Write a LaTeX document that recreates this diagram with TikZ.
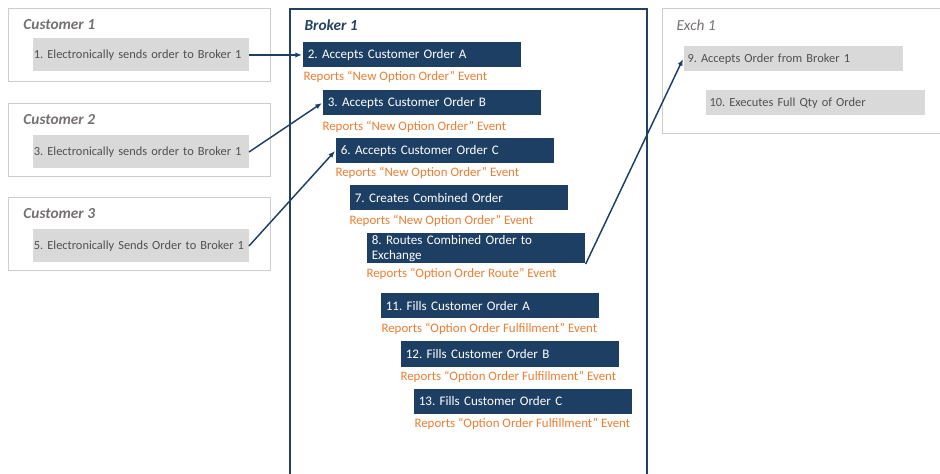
\documentclass[tikz,border=0pt]{standalone}
\usepackage{fontspec}
\setmainfont{Carlito}
\usetikzlibrary{arrows.meta}

\definecolor{framegrey}{RGB}{205,205,205}
\definecolor{boxgrey}{RGB}{217,217,217}
\definecolor{txtgrey}{RGB}{80,80,80}
\definecolor{titlegrey}{RGB}{118,113,113}
\definecolor{navy}{RGB}{29,63,100}
\definecolor{brokerblue}{RGB}{38,64,96}
\definecolor{rptorange}{RGB}{237,125,49}

\tikzset{every picture/.style={line width=0.75pt}}
\frenchspacing

\begin{document}
\begin{tikzpicture}[x=0.75pt,y=0.75pt,yscale=-1,xscale=1,
	greybox/.style={fill=boxgrey,text=txtgrey,anchor=north west,inner xsep=1pt,inner ysep=0pt,align=left,font=\fontsize{9.3}{11}\selectfont},
	navybox/.style={fill=navy,text=white,anchor=north west,inner xsep=4pt,inner ysep=0.5pt,text width=156pt,minimum height=18.75pt,align=left,font=\fontsize{9.8}{11.5}\selectfont},
	rpt/.style={text=rptorange,anchor=west,inner sep=0pt,font=\fontsize{9.7}{11}\selectfont},
	ttl/.style={anchor=west,inner sep=0pt,font=\fontsize{11.5}{13}\selectfont\bfseries\itshape},
	flow/.style={draw=navy,line width=1.1pt,-{Latex[length=5pt,width=4pt]}}]
	%set diagram left start at 0, and has height of 474
	\useasboundingbox (0,0) rectangle (940,474);
	
	%Frames
	\draw [color=framegrey] (8,9) rectangle (270,82) ;
	\draw [color=framegrey] (8,104) rectangle (270,177) ;
	\draw [color=framegrey] (8,198) rectangle (270,271) ;
	\draw [color=brokerblue, line width=1.1pt] (290,9) rectangle (647,480) ;
	\draw [color=framegrey] (662,9) rectangle (945,134) ;
	
	% Titles
	\node [ttl, color=titlegrey] (tCustA) at (23,25) {Customer 1};
	\node [ttl, color=titlegrey] (tCustB) at (23,120) {Customer 2};
	\node [ttl, color=titlegrey] (tCustC) at (23,214) {Customer 3};
	\node [ttl, color=brokerblue] (tBroker) at (304,25) {Broker 1};
	\node [ttl, color=titlegrey, font=\fontsize{11.5}{13}\selectfont\itshape] (tExch) at (676,25) {Exch 1};
	
	% Customer steps
	\node [greybox, text width=160pt, minimum height=24.75pt] (custA) at (32,38) {1. Electronically sends order to Broker 1};
	\node [greybox, text width=160pt, minimum height=24.75pt] (custB) at (32,135) {3. Electronically sends order to Broker 1};
	\node [greybox, text width=160pt, minimum height=24.75pt] (custC) at (32,229) {5. Electronically Sends Order to Broker 1};
	
	% Broker steps
	\node [navybox] (accA) at (302,42) {2. Accepts Customer Order A};
	\node [rpt] (rptA) at (303,77) {Reports “New Option Order” Event};
	\node [navybox] (accB) at (322,90) {3. Accepts Customer Order B};
	\node [rpt] (rptB) at (322,127) {Reports “New Option Order” Event};
	\node [navybox] (accC) at (335,138) {6. Accepts Customer Order C};
	\node [rpt] (rptC) at (335,173) {Reports “New Option Order” Event};
	\node [navybox] (comb) at (349,185) {7. Creates Combined Order};
	\node [rpt] (rptComb) at (349,221) {Reports “New Option Order” Event};
	\node [navybox, minimum height=22.5pt] (route) at (366,233) {8. Routes Combined Order to\\Exchange};
	\node [rpt] (rptRoute) at (366,274) {Reports “Option Order Route” Event};
	\node [navybox] (fillA) at (380,293) {11. Fills Customer Order A};
	\node [rpt] (rptFillA) at (381,329) {Reports “Option Order Fulfillment” Event};
	\node [navybox] (fillB) at (400,341) {12. Fills Customer Order B};
	\node [rpt] (rptFillB) at (400,377) {Reports “Option Order Fulfillment” Event};
	\node [navybox] (fillC) at (413,388) {13. Fills Customer Order C};
	\node [rpt] (rptFillC) at (414,424) {Reports “Option Order Fulfillment” Event};
	
	% Exchange steps
	\node [greybox, inner xsep=3pt, text width=158.25pt, minimum height=18.75pt] (exAcc) at (683,46) {9. Accepts Order from Broker 1};
	\node [greybox, inner xsep=3pt, text width=158.25pt, minimum height=18.75pt] (exFull) at (705,90) {10. Executes Full Qty of Order};
	
	% Connectors
	\draw [flow] (custA.east) -- (accA.west) ;
	\draw [flow] (custB.east) -- (accB.west) ;
	\draw [flow] (custC.east) -- (accC.west) ;
	\draw [flow] (route.south east) -- (exAcc.west) ;
	
\end{tikzpicture}
\end{document}
